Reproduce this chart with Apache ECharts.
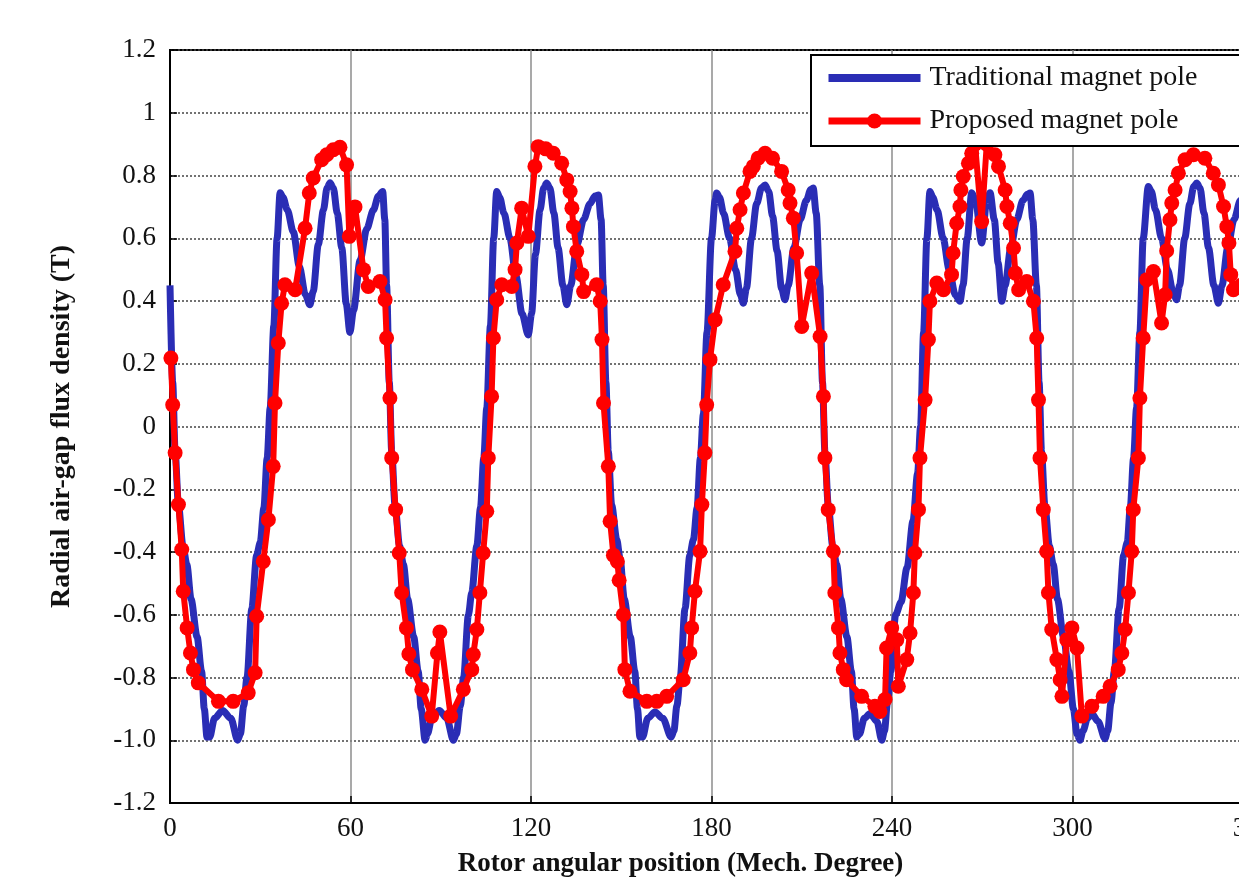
<!DOCTYPE html>
<html>
<head>
<meta charset="utf-8">
<title>Radial air-gap flux density</title>
<script src="https://cdn.jsdelivr.net/npm/echarts@6/dist/echarts.min.js"></script>
<style>
    html, body {
        margin: 0;
        padding: 0;
        background: #fff;
    }

    #chart {
        width: 1239px;
        height: 887px;
    }
</style>
</head>
<body>
<div id="chart"></div>
<script>
// legend names
const seriesNames = ['Traditional magnet pole', 'Proposed magnet pole'];

// y tick labels, bottom to top (-1.2 .. 1.2 step 0.2)
const yTickLabels = ['-1.2', '-1.0', '-0.8', '-0.6', '-0.4', '-0.2', '0', '0.2', '0.4', '0.6', '0.8', '1', '1.2'];

// traditional pole: [mech. degree, flux density T]
const traditional = [
    [0, 0.45], [0.9, 0.14], [1.7, -0.08], [2.8, -0.25], [4.3, -0.38], [5.6, -0.44], [7, -0.55], [9, -0.67],
    [10.5, -0.78], [11.4, -0.9], [12.3, -0.99], [13.2, -0.99], [14.8, -0.93], [17.5, -0.905], [20.2, -0.93],
    [22.5, -1.0], [23.4, -0.98], [24.5, -0.89], [25.6, -0.8], [27.2, -0.58], [28.8, -0.41], [30, -0.37],
    [31.2, -0.26], [32.3, -0.1], [33.3, 0.06], [34.5, 0.32], [35.6, 0.6], [36.6, 0.745],
    [37.6, 0.73], [39, 0.69], [41, 0.62], [43, 0.51], [45, 0.42], [46.5, 0.388], [47.6, 0.43], [49.3, 0.58],
    [51, 0.69], [52.2, 0.76], [53.2, 0.777], [54.3, 0.76], [55.6, 0.68], [57.1, 0.57], [58.6, 0.39],
    [59.8, 0.3], [61, 0.37], [63.2, 0.53], [65.4, 0.63], [67.6, 0.69], [69.3, 0.735], [70.7, 0.749], [71.4, 0.66],

    [72, 0.45], [72.9, 0.14], [73.7, -0.08], [74.8, -0.25], [76.3, -0.38], [77.6, -0.44], [79, -0.55], [81, -0.67],
    [82.5, -0.78], [83.5, -0.9], [84.8, -1.0], [85.6, -0.98], [87, -0.93], [89.5, -0.905], [92, -0.93],
    [94.2, -1.0], [95.2, -0.98], [96.5, -0.89], [97.6, -0.8], [99.2, -0.6], [100.3, -0.53], [102, -0.38],
    [103.2, -0.26], [104.3, -0.1], [105.3, 0.06], [106.5, 0.32], [107.6, 0.6], [108.6, 0.749],
    [109.6, 0.73], [111, 0.68], [113, 0.6], [115, 0.48], [117, 0.36], [119.1, 0.292], [120.2, 0.36], [121.5, 0.55],
    [123, 0.69], [124.2, 0.76], [125.2, 0.776], [126.3, 0.76], [127.6, 0.68], [129, 0.57], [130.6, 0.45],
    [131.9, 0.388], [133.2, 0.45], [135.3, 0.58], [137.5, 0.66], [139.6, 0.71], [141.3, 0.735], [142.4, 0.738], [143.3, 0.66],

    [144, 0.45], [144.9, 0.14], [145.7, -0.08], [146.8, -0.25], [148.5, -0.36], [149.6, -0.42], [151, -0.55], [153, -0.67],
    [154.5, -0.78], [155.4, -0.9], [156.2, -0.99], [157.1, -0.99], [158.8, -0.93], [161.2, -0.91], [163.8, -0.93],
    [166.6, -0.99], [167.5, -0.97], [168.5, -0.89], [169.6, -0.8], [171.2, -0.58], [172.8, -0.41], [174, -0.36],
    [175.2, -0.26], [176.3, -0.1], [177.3, 0.04], [178.5, 0.3], [180, 0.6], [181.2, 0.72], [181.7, 0.744],
    [182.7, 0.73], [184, 0.68], [186, 0.6], [188, 0.5], [189.6, 0.42], [190.6, 0.393], [191.6, 0.44], [193.3, 0.6],
    [195, 0.71], [196.6, 0.76], [197.8, 0.77], [199, 0.75], [200.3, 0.67], [201.8, 0.56], [203.3, 0.44],
    [204.4, 0.404], [205.5, 0.45], [207.4, 0.57], [209.5, 0.66], [211.5, 0.72], [213, 0.755], [213.8, 0.76], [214.8, 0.68],

    [216, 0.45], [216.9, 0.14], [217.7, -0.08], [218.8, -0.25], [220.3, -0.38], [221.6, -0.44], [223, -0.55], [225, -0.67],
    [226.5, -0.78], [227.4, -0.9], [228.3, -0.99], [229.2, -0.98], [230.8, -0.93], [232.7, -0.915], [235, -0.94],
    [236.6, -1.0], [237.5, -0.97], [238.5, -0.88], [239.6, -0.78], [241.2, -0.6], [243, -0.56], [245, -0.45],
    [247, -0.3], [248.5, -0.15], [249.5, 0.0], [250.5, 0.3], [251.6, 0.6], [252.6, 0.749],
    [253.6, 0.73], [255, 0.69], [257, 0.6], [259, 0.5], [261, 0.42], [262.6, 0.399], [263.6, 0.45], [265, 0.6],
    [266.5, 0.745], [267.8, 0.72], [269.8, 0.585], [271.5, 0.72], [272.6, 0.745], [274, 0.66], [275.3, 0.52],
    [276.5, 0.399], [277.6, 0.45], [279.5, 0.57], [281.5, 0.66], [283.5, 0.72], [285, 0.74], [285.9, 0.744], [286.8, 0.66],

    [288, 0.45], [288.9, 0.14], [289.7, -0.08], [290.8, -0.25], [292.3, -0.38], [293.6, -0.44], [295, -0.55], [297, -0.67],
    [298.8, -0.78], [300.3, -0.9], [301.5, -0.98], [302.5, -1.0], [303.5, -0.97], [305, -0.93], [306.4, -0.915],
    [308.5, -0.94], [310.8, -0.995], [311.7, -0.97], [312.8, -0.88], [313.9, -0.78], [315.5, -0.58], [317, -0.41],
    [318.2, -0.37], [319.2, -0.26], [320.3, -0.1], [321.3, 0.06], [322.4, 0.3], [323.5, 0.6], [325.2, 0.765],
    [326.2, 0.75], [327.6, 0.69], [329.6, 0.6], [331.6, 0.5], [333.4, 0.43], [334.6, 0.404], [335.6, 0.45], [337.3, 0.6],
    [339, 0.71], [340.3, 0.765], [341.3, 0.776], [342.4, 0.76], [343.7, 0.68], [345.2, 0.57], [347, 0.45],
    [348.5, 0.393], [349.7, 0.45], [351.6, 0.57], [353.7, 0.66], [355.8, 0.72], [357.5, 0.745], [358.5, 0.75], [359.4, 0.66], [360, 0.45]
];

// proposed pole: marker points [mech. degree, flux density T]
const proposed = [
    [0.3, 0.218], [0.9, 0.069], [1.7, -0.084], [2.8, -0.249], [3.9, -0.392], [4.4, -0.525], [5.7, -0.642],
    [6.8, -0.722], [7.8, -0.775], [9.4, -0.817], [16.1, -0.876], [21.0, -0.876], [26.0, -0.849], [28.3, -0.785],
    [28.8, -0.605], [31.0, -0.43], [32.7, -0.297], [34.3, -0.127], [34.9, 0.075], [36.0, 0.266], [37.1, 0.393],
    [38.2, 0.452], [41.6, 0.436], [44.9, 0.632], [46.3, 0.744], [47.6, 0.792], [50.4, 0.85], [52.1, 0.866],
    [54.3, 0.882], [56.5, 0.89], [58.7, 0.834], [59.6, 0.606], [61.5, 0.7], [64.3, 0.5], [65.9, 0.446],
    [69.8, 0.462], [71.5, 0.404], [72.0, 0.282], [73.1, 0.091],

    [73.7, -0.1], [75.0, -0.265], [76.2, -0.403], [77.0, -0.53], [78.6, -0.642], [79.4, -0.725], [80.6, -0.775],
    [83.7, -0.838], [87.0, -0.923], [88.9, -0.722], [89.7, -0.655], [93.3, -0.923], [97.5, -0.838], [100.3, -0.775],
    [100.8, -0.727], [102.0, -0.647], [103.0, -0.53], [104.1, -0.403], [105.3, -0.27], [105.8, -0.1], [106.9, 0.096],
    [107.5, 0.282], [108.6, 0.404], [110.3, 0.452], [113.6, 0.446], [114.7, 0.5], [115.3, 0.585], [116.9, 0.696],
    [119.1, 0.606], [121.3, 0.829], [122.4, 0.892], [124.9, 0.885], [127.4, 0.871], [130.2, 0.839], [131.9, 0.786],
    [133.0, 0.749], [133.6, 0.696], [134.1, 0.637], [135.2, 0.558], [136.9, 0.484], [137.5, 0.43], [141.8, 0.452],
    [143.0, 0.399], [143.6, 0.277], [144.1, 0.075],

    [145.7, -0.127], [146.3, -0.302], [147.4, -0.41], [148.7, -0.43], [149.3, -0.49], [150.7, -0.6], [151.2, -0.775],
    [152.9, -0.844], [158.5, -0.876], [161.8, -0.876], [165.1, -0.86], [170.6, -0.807], [172.8, -0.722],
    [173.4, -0.642], [174.5, -0.525], [176.2, -0.398], [176.8, -0.249], [177.8, -0.084], [178.4, 0.069],
    [179.5, 0.213], [181.2, 0.34], [183.9, 0.452], [187.8, 0.558], [188.4, 0.632], [189.5, 0.691], [190.6, 0.744],
    [192.8, 0.813], [193.9, 0.829], [195.5, 0.855], [197.8, 0.871], [200.3, 0.855], [203.3, 0.813], [205.5, 0.754],
    [206.1, 0.712], [207.2, 0.664], [208.3, 0.553], [210.0, 0.319], [213.3, 0.489], [216.1, 0.287], [217.2, 0.096],

    [217.7, -0.1], [218.8, -0.265], [220.5, -0.398], [221.0, -0.53], [222.2, -0.642], [222.7, -0.722], [223.8, -0.775],
    [224.9, -0.807], [229.9, -0.86], [234.3, -0.892], [236.0, -0.908], [237.7, -0.87], [238.2, -0.706], [239.9, -0.642],
    [241.6, -0.68], [242.1, -0.828], [244.9, -0.743], [246.0, -0.658], [247.1, -0.53], [247.6, -0.403], [248.8, -0.265],
    [249.3, -0.1], [251.0, 0.085], [252.1, 0.277], [252.6, 0.399], [254.9, 0.457], [257.1, 0.436], [259.8, 0.484],
    [260.3, 0.553], [261.5, 0.648], [262.6, 0.701], [262.9, 0.754], [263.7, 0.797], [265.4, 0.839], [266.5, 0.871],
    [267.6, 0.9], [269.8, 0.653], [271.5, 0.9], [274.2, 0.866], [275.4, 0.829], [277.6, 0.754], [278.2, 0.701],
    [279.3, 0.648], [280.4, 0.569], [281.0, 0.489], [282.1, 0.436], [284.8, 0.462], [287.0, 0.399], [288.1, 0.282],
    [288.7, 0.085],

    [289.2, -0.1], [290.3, -0.265], [291.4, -0.398], [292.0, -0.53], [293.1, -0.647], [294.8, -0.743], [295.9, -0.807],
    [296.5, -0.86], [298.1, -0.68], [299.8, -0.642], [301.5, -0.706], [303.1, -0.923], [306.4, -0.892], [310.2, -0.86],
    [312.5, -0.828], [315.2, -0.775], [316.4, -0.722], [317.5, -0.647], [318.6, -0.53], [319.7, -0.398], [320.2, -0.265],
    [321.9, -0.1], [322.4, 0.091], [323.5, 0.282], [324.7, 0.468], [326.9, 0.494], [329.6, 0.33], [330.8, 0.42],
    [331.3, 0.56], [332.4, 0.659], [333.0, 0.712], [334.1, 0.754], [335.2, 0.807], [337.4, 0.85], [340.2, 0.866],
    [344.0, 0.855], [346.8, 0.807], [348.5, 0.77], [350.2, 0.701], [351.3, 0.637], [352.0, 0.585], [352.6, 0.484],
    [353.5, 0.436], [356.0, 0.45], [358.0, 0.4], [360.0, 0.218]
];

const serif = 'Liberation Serif';
const blue = '#2a2db5';
const red = '#ff0000';

const chart = echarts.init(document.getElementById('chart'), null, { renderer: 'canvas' });

const option = {
    backgroundColor: '#fff',
    animation: false,
    grid: {
        left: 170,
        right: -14,
        top: 50,
        bottom: 84,
        show: true,
        borderColor: '#000',
        borderWidth: 2,
        outerBoundsMode: 'none'
    },
    legend: {
        data: [
            // plain thick bar for the line-only series
            { name: seriesNames[0], icon: 'path://M0,0H92V8H0Z' },
            { name: seriesNames[1] }
        ],
        orient: 'vertical',
        left: 811,
        top: 55,
        itemWidth: 92,
        itemHeight: 19,
        itemGap: 15,
        padding: [9, 70, 11, 14],
        backgroundColor: '#fff',
        borderColor: '#000',
        borderWidth: 2,
        borderRadius: 0,
        lineStyle: { width: 7 },
        textStyle: {
            fontFamily: serif,
            fontSize: 28,
            color: '#111',
            padding: [0, 0, 0, 4]
        }
    },
    xAxis: {
        type: 'value',
        min: 0,
        max: 360,
        interval: 60,
        name: 'Rotor angular position (Mech. Degree)',
        nameLocation: 'middle',
        nameGap: 48,
        nameTextStyle: {
            fontFamily: serif,
            fontSize: 27,
            fontWeight: 'bold',
            color: '#111',
            padding: [0, 62, 0, 0]
        },
        axisLine: { onZero: false, lineStyle: { color: '#000', width: 2 } },
        axisTick: { inside: true, length: 7, lineStyle: { color: '#000', width: 1.5 } },
        axisLabel: {
            margin: 12,
            fontFamily: serif,
            fontSize: 27,
            color: '#111'
        },
        splitLine: {
            show: true,
            lineStyle: { color: '#8c8c8c', width: 1.5, type: 'solid' }
        }
    },
    yAxis: {
        type: 'value',
        min: -1.2,
        max: 1.2,
        interval: 0.2,
        name: 'Radial air-gap flux density (T)',
        nameLocation: 'middle',
        nameGap: 94,
        nameTextStyle: {
            fontFamily: serif,
            fontSize: 28,
            fontWeight: 'bold',
            color: '#111'
        },
        axisLine: { onZero: false, lineStyle: { color: '#000', width: 2 } },
        axisTick: { inside: true, length: 7, lineStyle: { color: '#000', width: 1.5 } },
        axisLabel: {
            margin: 14,
            fontFamily: serif,
            fontSize: 27,
            color: '#111',
            formatter: function (v) {
                return yTickLabels[Math.round((v + 1.2) / 0.2)];
            }
        },
        splitLine: {
            show: true,
            lineStyle: { color: '#444', width: 1.5, type: [2, 2] }
        }
    },
    series: [
        {
            name: seriesNames[0],
            type: 'line',
            data: traditional,
            symbol: 'none',
            smooth: 0.3,
            smoothMonotone: 'x',
            lineStyle: { color: blue, width: 7 },
            itemStyle: { color: blue }
        },
        {
            name: seriesNames[1],
            type: 'line',
            data: proposed,
            symbol: 'circle',
            symbolSize: 15,
            showAllSymbol: true,
            lineStyle: { color: red, width: 6 },
            itemStyle: { color: red }
        }
    ]
};

chart.setOption(option);
</script>
</body>
</html>
